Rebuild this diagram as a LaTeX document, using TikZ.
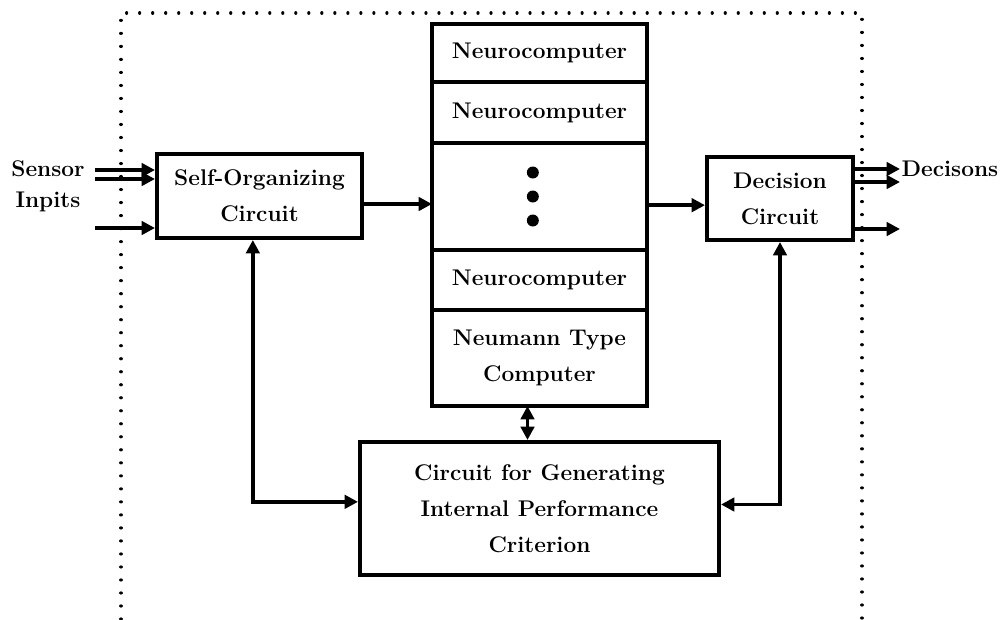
\documentclass[tikz,border=0pt]{standalone}
\usepackage{fontspec}
\usetikzlibrary{arrows.meta,positioning}
\newcommand{\blockfont}{\fontsize{17}{27}\selectfont\bfseries}
\tikzset{
  block/.style={draw=black, line width=3pt, fill=white, align=center,
    font=\blockfont, inner sep=0pt},
  cell/.style={block, minimum width=161.25pt, outer sep=0pt},
  flow/.style={-{Triangle[length=10pt,width=10pt]}, line width=2.6pt},
  biflow/.style={{Triangle[length=10pt,width=10pt]}-{Triangle[length=10pt,width=10pt]},
    line width=2.6pt},
  frame/.style={line width=2.4pt, dash pattern=on 0.01pt off 9.75pt, line cap=round},
  io/.style={font=\fontsize{17}{23}\selectfont\bfseries, align=center, inner sep=1pt},
}

\begin{document}
\begin{tikzpicture}[x=0.75pt, y=-0.75pt, node distance=0pt]
\useasboundingbox (0,0) rectangle (1006,619);

% dotted frame
\draw[frame] (121,619) -- (121,13) -- (862,13) -- (862,619);

% blocks
\node[block, minimum width=153.75pt, minimum height=63pt] (so) at (259.5,196) {Self-Organizing\\Circuit};
\node[cell, minimum height=43.5pt, anchor=north] (nc1) at (539.5,24) {Neurocomputer};
\node[cell, minimum height=45.75pt, below=of nc1] (nc2) {Neurocomputer};
\node[cell, minimum height=80.25pt, below=of nc2] (dots) {};
\node[cell, minimum height=45pt, below=of dots] (nc3) {Neurocomputer};
\node[cell, minimum height=72pt, below=of nc3] (neu) {Neumann Type\\Computer};
\node[block, minimum width=109.5pt, minimum height=62.25pt] (dec) at (780,198.5) {Decision\\Circuit};
\node[block, minimum width=269.25pt, minimum height=99.75pt] (crit) at (539.5,508.5) {Circuit for Generating\\Internal Performance\\Criterion};
\foreach \dy in {-18,0,18}
  \fill ([xshift=-5pt,yshift=\dy pt]dots.center) circle (4.5pt);

% inputs and outputs
\coordinate (in1) at (95,170);
\coordinate (in2) at (95,179);
\coordinate (in3) at (95,228);
\coordinate (out1) at (900,169);
\coordinate (out2) at (900,182);
\coordinate (out3) at (900,229);
\node[io] (sens) at (48,186) {Sensor\\Inpits};
\node[io, anchor=west] (decs) at (out1) {Decisons};
\draw[flow] (in1) -- (in1 -| so.west);
\draw[flow] (in2) -- (in2 -| so.west);
\draw[flow] (in3) -- (in3 -| so.west);
\draw[flow] (out1 -| dec.east) -- (out1);
\draw[flow] (out2 -| dec.east) -- (out2);
\draw[flow] (out3 -| dec.east) -- (out3);

% main path
\draw[flow] ([yshift=-6pt]so.east) -- ([yshift=-6pt]so.east -| dots.west);
\draw[flow] ([yshift=-5pt]dec.west -| dots.east) -- ([yshift=-5pt]dec.west);

% feedback
\draw[biflow] ([xshift=-5pt]so.south) |- ([yshift=5pt]crit.west);
\draw[biflow] (dec.south) |- ([yshift=3pt]crit.east);
\draw[biflow] ([xshift=-9pt]neu.south) -- ([xshift=-9pt]neu.south |- crit.north);
\end{tikzpicture}
\end{document}
